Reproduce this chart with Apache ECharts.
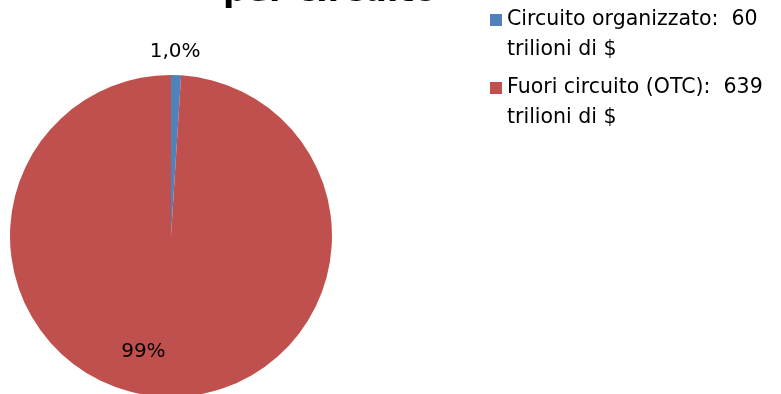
<!DOCTYPE html>
<html>
<head>
<meta charset="utf-8">
<title>per circuito</title>
<script src="https://cdn.jsdelivr.net/npm/echarts@6/dist/echarts.min.js"></script>
<style>
  html, body { margin: 0; padding: 0; background: #ffffff; }
  #chart { width: 781px; height: 394px; }
</style>
</head>
<body>
<div id="chart"></div>
<script>
// Slices: market segment and share of notional value (percent)
const categories = [
  'Circuito organizzato:  60\ntrilioni di $',
  'Fuori circuito (OTC):  639\ntrilioni di $'
];
const shares = [1.0, 99];
const shareLabels = ['1,0%', '99%'];
const colors = ['#4F81BD', '#C0504D'];

const FONT = 'DejaVu Sans';

// Label placement per slice, relative to the slice's inner anchor
const labelOffsets = [[1.5, -100.5], [-25, 32.5]];

const pieData = categories.map((name, i) => ({
  name: name,
  value: shares[i],
  itemStyle: { color: colors[i] },
  label: {
    show: true,
    position: 'inside',
    formatter: shareLabels[i],
    offset: labelOffsets[i]
  }
}));

// Legend marker: square sitting beside the first text line
const legendIcon = 'path://M0,0L0,0M0,9h12v12h-12zM0,60L0,60';

const chart = echarts.init(document.getElementById('chart'), null, { renderer: 'canvas' });
chart.setOption({
  animation: false,
  backgroundColor: '#ffffff',
  title: {
    text: 'per circuito',
    left: 223,
    top: -24,
    padding: 0,
    textStyle: { fontFamily: FONT, fontSize: 33, fontWeight: 'bold', color: '#000000' }
  },
  legend: {
    orient: 'vertical',
    left: 490,
    top: 5,
    padding: 0,
    itemGap: 8,
    itemWidth: 12,
    itemHeight: 60,
    icon: legendIcon,
    selectedMode: false,
    data: categories,
    itemStyle: { borderWidth: 0 },
    textStyle: { fontFamily: FONT, fontSize: 20.5, lineHeight: 30, color: '#000000' }
  },
  series: [{
    type: 'pie',
    center: [171, 236],
    radius: 161,
    startAngle: 90,
    clockwise: true,
    avoidLabelOverlap: false,
    emphasis: { disabled: true },
    itemStyle: { borderWidth: 0 },
    label: { fontFamily: FONT, fontSize: 20, color: '#000000' },
    labelLine: { show: false },
    data: pieData
  }]
});
</script>
</body>
</html>
